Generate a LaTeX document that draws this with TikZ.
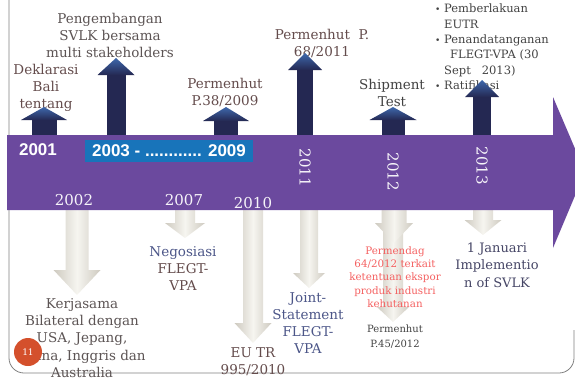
\documentclass[tikz,border=0pt]{standalone}
\usepackage{fontspec}
\setmainfont{DejaVu Serif}
\setsansfont{Liberation Sans}

\definecolor{navy}{RGB}{36,40,82}
\definecolor{headblue}{RGB}{62,104,172}
\definecolor{dnedge}{RGB}{206,202,192}
\definecolor{dnmid}{RGB}{246,245,240}
\definecolor{bandpurple}{RGB}{107,73,158}
\definecolor{boxblue}{RGB}{24,116,186}
\definecolor{brownish}{RGB}{100,76,76}
\definecolor{greybrown}{RGB}{92,84,84}
\definecolor{darkgrey}{RGB}{66,66,66}
\definecolor{bluegrey}{RGB}{76,86,136}
\definecolor{slate}{RGB}{70,70,102}
\definecolor{softred}{RGB}{244,96,96}
\definecolor{framegrey}{RGB}{128,128,128}
\definecolor{pagedot}{RGB}{212,80,44}

\begin{document}
\begin{tikzpicture}[x=1pt,y=-1pt,
  upshaft/.style={fill=navy},
  uphead/.style={top color=headblue,bottom color=navy},
  dnbody/.style={left color=dnedge,right color=dnedge,middle color=dnmid},
  band/.style={fill=bandpurple},
  lbl/.style={font=\fontsize{13.5}{17}\selectfont,align=center,inner sep=0pt},
  yr/.style={font=\fontsize{15}{15}\selectfont,text=white!94!bandpurple,inner sep=0pt},
  yrbold/.style={font=\sffamily\bfseries\fontsize{17}{17}\selectfont,text=white,inner sep=0pt}
]

\clip (0,0) rectangle (575,383);

\draw[framegrey,line width=0.8pt,rounded corners=15pt] (9,-5) -- (9,373) -- (574,373) -- (574,330);

\node[lbl,text=brownish] (bali) at (46,88) {Deklarasi\\Bali\\tentang};
\node[lbl,text=greybrown] (svlk) at (110,35) {Pengembangan\\SVLK bersama\\multi stakeholders};
\node[lbl,text=brownish] (p38) at (225,92) {Permenhut\\P.38/2009};
\node[lbl,text=brownish] (p68) at (322,43) {Permenhut\ \ P.\\68/2011};
\node[lbl,text=darkgrey] (ship) at (392,93) {Shipment\\Test};
\node[inner sep=0pt,anchor=north west,align=left,text=darkgrey,
  font=\fontsize{11.5}{15.3}\selectfont] (eutr) at (435,4)
  {\makebox[9pt][l]{\small\textbullet}Pemberlakuan\\
   \hspace*{9pt}EUTR\\
   \makebox[9pt][l]{\small\textbullet}Penandatanganan\\
   \hspace*{15pt}FLEGT-VPA (30\\
   \hspace*{9pt}Sept\ \ \ 2013)\\
   \makebox[9pt][l]{\small\textbullet}Ratifikasi};

\foreach \x/\t/\b/\s/\h in {44/107/120/12.5/23, 116/58/75/9.5/18.5, 226/107/121/12/23,
                            305/53/70/8/17, 393/107/120/11.5/23.5, 482/80/97/9/17}{
  \fill[upshaft] (\x-\s,\b-0.5) rectangle (\x+\s,137);
  \shade[uphead] (\x-\h,\b) -- (\x,\t) -- (\x+\h,\b) -- cycle;
}

\foreach \x/\t/\b/\s/\h in {77/295/270/11.5/23.5, 185/238/223/10/20, 253/343/323/10/18.5,
                            309/288/273/9/16, 393/322/307/10/16, 394/243/223/12.5/19,
                            483/235/220/10/18.5}{
  \shade[dnbody] (\x-\s,208) -- (\x+\s,208) -- (\x+\s,\b) -- (\x+\h,\b) -- (\x,\t)
    -- (\x-\h,\b) -- (\x-\s,\b) -- cycle;
}

\fill[band] (7,135) -- (553,135) -- (553,97) -- (585,172) -- (553,248) -- (553,210) -- (7,210) -- cycle;
\fill[boxblue] (85,140) rectangle (253,162);

\node[yrbold] (y2001) at (38,150) {2001};
\node[yrbold] (y2003) at (169,151) {2003 - ............ 2009};
\node[yr] (y2002) at (74,200) {2002};
\node[yr] (y2007) at (184,200) {2007};
\node[yr] (y2010) at (253,203) {2010};
\node[yr,rotate=-90] (y2011) at (305,168) {2011};
\node[yr,rotate=-90] (y2012) at (393,172) {2012};
\node[yr,rotate=-90] (y2013) at (482,166) {2013};

\node[lbl,text=greybrown,font=\fontsize{13.5}{17.3}\selectfont] (bilat) at (82,338)
  {Kerjasama\\Bilateral dengan\\USA, Jepang,\\China, Inggris dan\\Australia};
\node[lbl,text=brownish] (nego) at (183,269) {\textcolor{bluegrey}{Negosiasi}\\FLEGT-\\VPA};
\node[lbl,text=brownish] (eutr10) at (253,362) {EU TR\\995/2010};
\node[lbl,text=bluegrey] (joint) at (308,323) {Joint-\\Statement\\FLEGT-\\VPA};
\node[lbl,text=softred,font=\fontsize{10.3}{13.3}\selectfont] (p64) at (395,277)
  {Permendag\\64/2012 terkait\\ketentuan ekspor\\produk industri\\kehutanan};
\node[lbl,text=darkgrey,font=\fontsize{10}{15}\selectfont] (p45) at (395,337) {Permenhut\\P.45/2012};
\node[lbl,text=slate,font=\fontsize{13}{17.5}\selectfont] (jan) at (497,265) {1 Januari\\Implementio\\n of SVLK};

\fill[pagedot] (28,352) circle (14);
\node[inner sep=0pt,text=white,font=\fontsize{9}{9}\selectfont] (pg) at (28,352) {11};

\end{tikzpicture}
\end{document}
